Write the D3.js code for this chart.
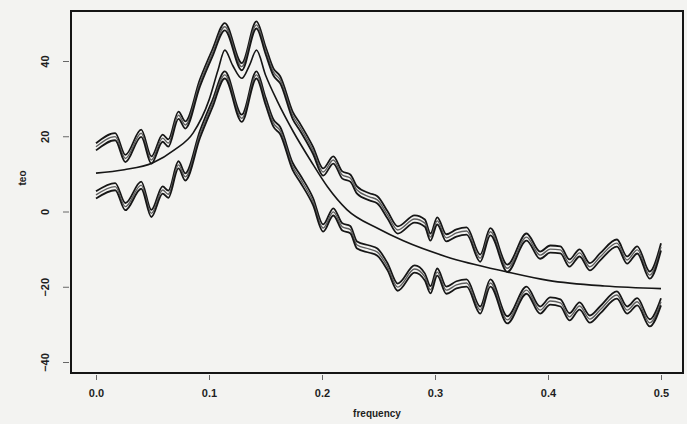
<!DOCTYPE html>
<html>
<head>
<meta charset="utf-8">
<script src="https://cdn.jsdelivr.net/npm/d3@7"></script>
<style>
  html, body { margin: 0; padding: 0; background: #f3f3f1; }
  svg { display: block; }
  text { font-family: "Liberation Sans", Arial, sans-serif; fill: #1e1e1e; }
</style>
</head>
<body>
<svg id="chart" width="687" height="424"></svg>
<script>
// Frequencies at which the two wiggly spectral estimates are sampled
const freq = [0.000, 0.017, 0.026, 0.040, 0.049, 0.059, 0.064, 0.073, 0.079, 0.092,
              0.103, 0.114, 0.129, 0.142, 0.150, 0.157, 0.163, 0.174, 0.181, 0.192,
              0.201, 0.210, 0.218, 0.225, 0.231, 0.242, 0.249, 0.258, 0.267, 0.282,
              0.291, 0.296, 0.302, 0.310, 0.319, 0.328, 0.340, 0.349, 0.364, 0.381,
              0.393, 0.402, 0.411, 0.419, 0.428, 0.437, 0.446, 0.461, 0.470, 0.479,
              0.490, 0.500];

// Upper estimate (dB)
const upper = [17.2, 19.9, 14.1, 20.8, 13.7, 19.5, 18.2, 25.6, 23.0, 34.2,
               42.1, 49.1, 38.5, 49.6, 42.9, 37.1, 35.0, 25.6, 22.2, 16.3,
               10.5, 13.7, 9.7, 8.9, 5.7, 3.9, 3.1, -0.9, -4.9, -2.0,
               -3.1, -6.8, -2.5, -7.0, -5.7, -5.2, -12.4, -5.4, -15.1, -6.8,
               -11.6, -10.0, -10.2, -13.7, -11.0, -14.7, -12.1, -8.4, -12.9, -10.2,
               -16.9, -9.4];

// Lower estimate (dB)
const lower = [4.4, 6.6, 1.3, 7.0, -0.5, 5.7, 4.6, 12.4, 9.2, 20.5,
               28.6, 36.3, 24.8, 36.3, 29.4, 23.5, 21.5, 12.0, 8.6, 2.7,
               -4.4, -0.1, -4.1, -4.8, -8.9, -10.0, -10.8, -14.7, -20.1, -15.3,
               -17.4, -20.8, -16.1, -20.9, -19.5, -19.0, -26.2, -19.0, -28.8, -20.9,
               -26.2, -23.8, -24.3, -28.0, -25.1, -28.6, -26.2, -22.2, -26.2, -24.0,
               -29.6, -24.0];

// Smooth parametric spectrum (dB)
const smoothFreq = [0, 0.025, 0.05, 0.07, 0.086, 0.1, 0.108, 0.114, 0.121, 0.129,
                    0.136, 0.142, 0.15, 0.16, 0.175, 0.19, 0.205, 0.222, 0.25, 0.272,
                    0.31, 0.363, 0.4, 0.45, 0.5];
const smoothDb = [10.2, 11.1, 12.9, 16.5, 20.9, 29.6, 37.6, 42.9, 38.8, 35.4,
                  39.0, 42.9, 36.3, 29.6, 21.0, 13.5, 6.5, 0.5, -4.6, -7.8,
                  -12.0, -16.0, -18.3, -19.8, -20.5];

const xTicks = [0.0, 0.1, 0.2, 0.3, 0.4, 0.5];
const yTicks = [-40, -20, 0, 20, 40];

const svg = d3.select("#chart");
const box = { left: 71, right: 683, top: 11, bottom: 373 };

const x = d3.scaleLinear().domain([0, 0.5]).range([96, 661]);
const y = d3.scaleLinear().domain([-40, 40]).range([362, 61]);

// Each wiggly estimate is drawn as a bundle of three close strokes
const bundle = [
  { dy: -3.6, color: "#161616", w: 1.8 },
  { dy: 0, color: "#5e5e5e", w: 1.4 },
  { dy: 3.6, color: "#161616", w: 1.8 }
];

const wiggle = d3.line()
  .x(d => x(d[0]))
  .y(d => y(d[1]))
  .curve(d3.curveMonotoneX);

[upper, lower].forEach(series => {
  const pts = freq.map((f, i) => [f, series[i]]);
  bundle.forEach(b => {
    svg.append("path")
      .attr("d", wiggle(pts))
      .attr("transform", `translate(0,${b.dy})`)
      .attr("fill", "none")
      .attr("stroke", b.color)
      .attr("stroke-width", b.w)
      .attr("stroke-linejoin", "round");
  });
});

svg.append("path")
  .attr("d", wiggle(smoothFreq.map((f, i) => [f, smoothDb[i]])))
  .attr("fill", "none")
  .attr("stroke", "#161616")
  .attr("stroke-width", 1.6);

// Plot frame
svg.append("rect")
  .attr("x", box.left).attr("y", box.top)
  .attr("width", box.right - box.left).attr("height", box.bottom - box.top)
  .attr("fill", "none").attr("stroke", "#151515").attr("stroke-width", 2);

// Bottom axis
const xAxis = svg.append("g").attr("transform", `translate(0,${box.bottom + 2})`)
  .call(d3.axisBottom(x).tickValues(xTicks).tickFormat(d3.format(".1f")).tickSize(5).tickPadding(9));
xAxis.select(".domain").remove();
xAxis.selectAll("line").attr("stroke", "#666");
xAxis.selectAll("text").style("font-size", "11px").style("font-weight", "bold").attr("fill", "#1e1e1e");

// Left axis with rotated labels
const yAxis = svg.append("g").attr("transform", `translate(${box.left - 2},0)`)
  .call(d3.axisLeft(y).tickValues(yTicks).tickSize(6).tickPadding(0));
yAxis.select(".domain").remove();
yAxis.selectAll("line").attr("stroke", "#666");
yAxis.selectAll("text")
  .attr("x", 0).attr("dy", 0)
  .attr("text-anchor", "middle")
  .attr("transform", "translate(-20,0) rotate(-90)")
  .style("font-size", "11px").style("font-weight", "bold").attr("fill", "#1e1e1e");

svg.append("text")
  .attr("x", (box.left + box.right) / 2).attr("y", 417)
  .attr("text-anchor", "middle")
  .style("font-size", "10px").style("font-weight", "bold")
  .text("frequency");

svg.append("text")
  .attr("transform", `translate(26,${(box.top + box.bottom) / 2 - 14}) rotate(-90)`)
  .attr("text-anchor", "middle")
  .style("font-size", "10px").style("font-weight", "bold")
  .text("teo");
</script>
</body>
</html>
